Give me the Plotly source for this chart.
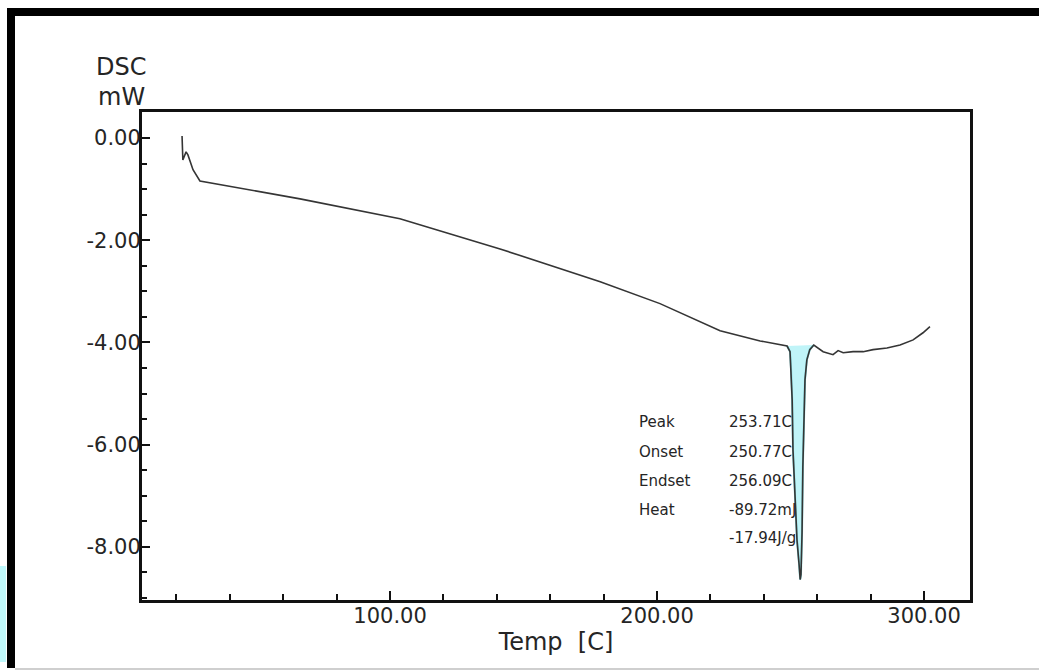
import plotly.graph_objects as go

# ---- data ----
temp = [22.1, 22.4, 23.6, 24.3, 26.2, 28.8, 66.3, 103.7, 141.2, 178.7, 201.1, 223.6, 238.6,
        248.7, 249.8, 250.2, 250.6, 250.9, 251.7, 252.4, 253.2, 253.6, 253.9, 254.3, 254.6,
        255.1, 255.4, 256.1, 257.2, 258.7,
        259.8, 262.2, 265.9, 267.8, 269.7, 273.4, 277.2, 280.9, 286.1, 291.0, 295.9, 299.6, 302.2]
dsc = [0.04, -0.43, -0.27, -0.33, -0.62, -0.84, -1.19, -1.58, -2.17, -2.81, -3.24, -3.77, -3.97,
       -4.07, -4.18, -4.54, -5.12, -6.10, -7.08, -7.86, -8.35, -8.64, -8.54, -7.72, -6.43,
       -5.51, -4.73, -4.34, -4.14, -4.05,
       -4.09, -4.18, -4.24, -4.16, -4.20, -4.18, -4.18, -4.14, -4.11, -4.05, -3.95, -3.81, -3.69]

peak_start, peak_end = 248.7, 258.7

y_ticks = [0, -2, -4, -6, -8]
y_ticktext = ["0.00", "-2.00", "-4.00", "-6.00", "-8.00"]
x_ticks = [100, 200, 300]
x_ticktext = ["100.00", "200.00", "300.00"]

stat_labels = ["Peak", "Onset", "Endset", "Heat", ""]
stat_values = ["253.71C", "250.77C", "256.09C", "-89.72mJ", "-17.94J/g"]

# ---- figure geometry ----
W, H = 1039, 672
L, R, T, B = 142, 970, 112, 600
X_RANGE = [7.1, 317.2]
Y_RANGE = [-9.04, 0.51]


def px(x):
    return (x - L) / (R - L)


def py(y):
    return (B - y) / (B - T)


fig = go.Figure()

# peak fill
pk_x = [t for t in temp if peak_start <= t <= peak_end]
pk_y = [d for t, d in zip(temp, dsc) if peak_start <= t <= peak_end]
fig.add_trace(go.Scatter(x=pk_x, y=pk_y, mode="lines", fill="toself",
                         fillcolor="rgba(185,243,247,0.9)",
                         line=dict(color="#7fd3d6", width=2),
                         hoverinfo="skip", showlegend=False))

fig.add_trace(go.Scatter(x=temp, y=dsc, mode="lines",
                         line=dict(color="#353535", width=1.6),
                         showlegend=False))

font_main = "DejaVu Sans, Verdana, sans-serif"
txt_col = "#252525"

fig.update_layout(
    width=W, height=H,
    margin=dict(l=L, r=W - R, t=T, b=H - B),
    paper_bgcolor="white", plot_bgcolor="white",
    font=dict(family=font_main, color=txt_col),
    xaxis=dict(range=X_RANGE, showgrid=False, zeroline=False,
               showline=True, mirror=True, linecolor="#111", linewidth=3,
               tickmode="array", tickvals=x_ticks, ticktext=x_ticktext,
               ticks="inside", ticklen=9, tickwidth=2, tickcolor="#111",
               ticklabelstandoff=-5,
               minor=dict(dtick=20, tick0=0, ticks="inside", ticklen=6,
                          tickwidth=2, tickcolor="#111"),
               tickfont=dict(size=21, family=font_main, color=txt_col),
               title=dict(text="Temp  [C]", standoff=6,
                          font=dict(size=24, family=font_main, color=txt_col))),
    yaxis=dict(range=Y_RANGE, showgrid=False, zeroline=False,
               showline=True, mirror=True, linecolor="#111", linewidth=3,
               tickmode="array", tickvals=y_ticks, ticktext=y_ticktext,
               ticks="inside", ticklen=8, tickwidth=2, tickcolor="#111",
               ticklabelstandoff=-6,
               minor=dict(dtick=0.5, tick0=0, ticks="inside", ticklen=5,
                          tickwidth=2, tickcolor="#111"),
               tickfont=dict(size=21, family=font_main, color=txt_col)),
)

# DSC / mW label
for txt, yy in (("DSC", 67), ("mW", 97)):
    fig.add_annotation(text=txt, xref="paper", yref="paper", x=px(121), y=py(yy),
                       xanchor="center", yanchor="middle", showarrow=False,
                       font=dict(size=24, family=font_main, color=txt_col))

# peak statistics
rows_px = [422, 452, 481, 510, 538]
for lab, val, rp in zip(stat_labels, stat_values, rows_px):
    if lab:
        fig.add_annotation(text=lab, xref="paper", yref="paper", x=px(637), y=py(rp),
                           xanchor="left", yanchor="middle", showarrow=False,
                           font=dict(size=15, family=font_main, color=txt_col))
    fig.add_annotation(text=val, xref="paper", yref="paper", x=px(727), y=py(rp),
                       xanchor="left", yanchor="middle", showarrow=False,
                       font=dict(size=15, family=font_main, color=txt_col))

# photo frame decorations
shapes = [
    dict(type="rect", xref="paper", yref="paper", x0=px(7), x1=px(1039), y0=py(16), y1=py(8),
         fillcolor="black", line=dict(width=0), layer="above"),
    dict(type="rect", xref="paper", yref="paper", x0=px(7), x1=px(15), y0=py(668), y1=py(8),
         fillcolor="black", line=dict(width=0), layer="above"),
    dict(type="rect", xref="paper", yref="paper", x0=px(0), x1=px(6), y0=py(662), y1=py(566),
         fillcolor="#bff8fb", line=dict(width=0), layer="above"),
    dict(type="line", xref="paper", yref="paper", x0=px(15), x1=px(1039), y0=py(669), y1=py(669),
         line=dict(color="#cfcfcf", width=2), layer="above"),
]
fig.update_layout(shapes=shapes)

fig.write_html("out.html", config={"displayModeBar": False},
               post_script="document.body.style.margin='0';")
